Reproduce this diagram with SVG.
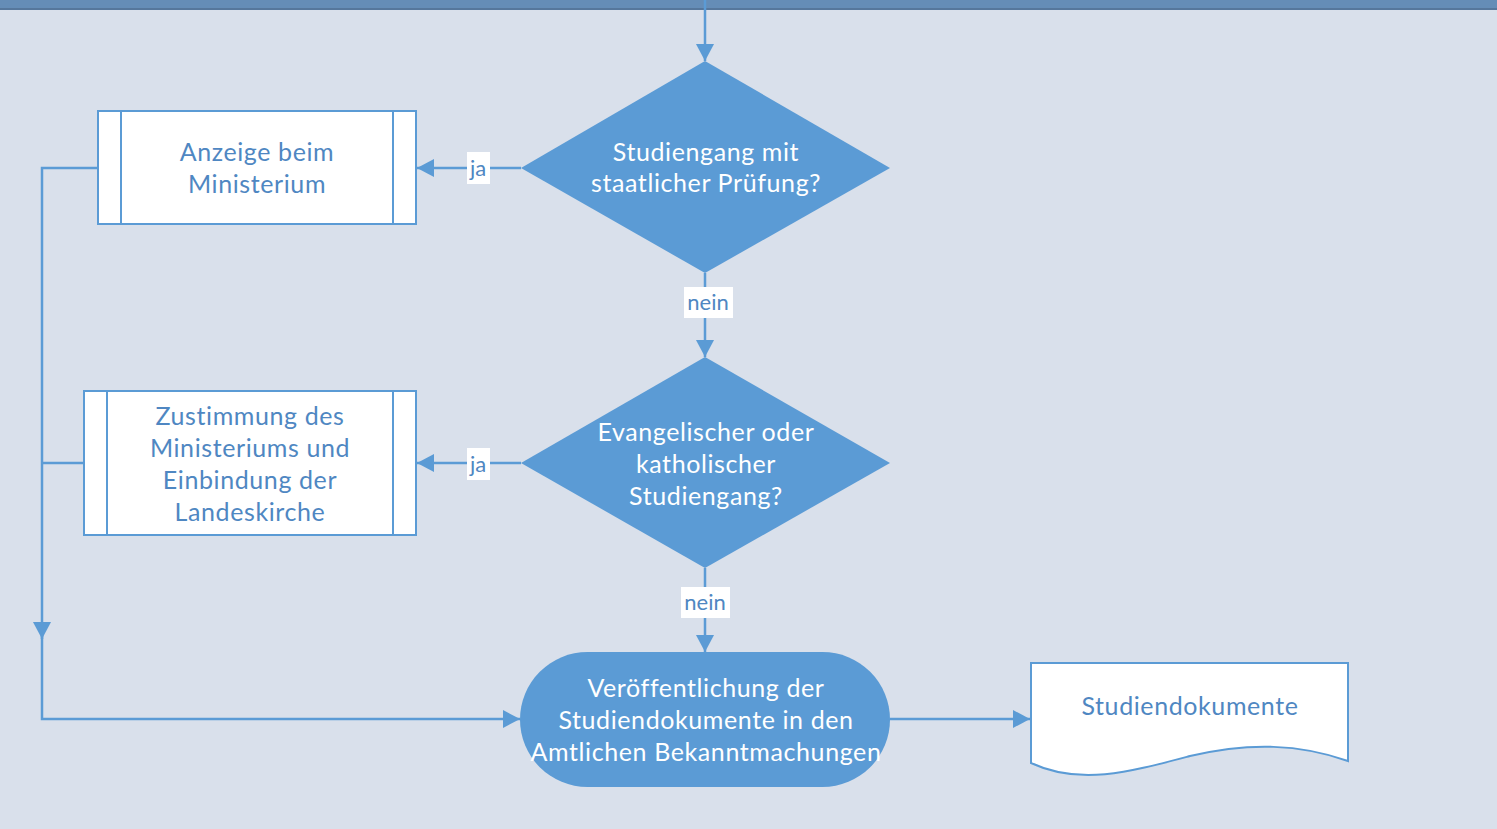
<svg xmlns="http://www.w3.org/2000/svg" width="1497" height="829" viewBox="0 0 1497 829">
  <style>
    .bg { fill: #d9e0eb; }
    .proc { fill: #ffffff; stroke: #5b9bd5; stroke-width: 2; }
    .dec { fill: #5b9bd5; }
    .line { fill: none; stroke: #5b9bd5; stroke-width: 2.5; }
    .t { font-family: Lato, "Noto Sans", sans-serif; font-size: 25px; text-anchor: middle; letter-spacing: 0.6px; }
    .tw { fill: #ffffff; }
    .tb { fill: #4f87c2; }
    .lbl { font-family: Lato, "Noto Sans", sans-serif; font-size: 22px; fill: #4f87c2; text-anchor: middle; }
  </style>
  <defs>
    <!-- filled triangular arrowhead, 17 long x 18 wide -->
    <marker id="arrow" markerWidth="17" markerHeight="18" refX="17" refY="9" orient="auto" markerUnits="userSpaceOnUse" viewBox="0 0 17 18">
      <path d="M0,0 L17,9 L0,18 z" fill="#5b9bd5"/>
    </marker>
  </defs>

  <rect class="bg" x="0" y="0" width="1497" height="829"/>
  <rect x="0" y="0" width="1497" height="9" fill="#658db7"/>
  <rect x="0" y="8" width="1497" height="2" fill="#56779c"/>

  <g id="connectors">
    <line class="line" x1="705" y1="0" x2="705" y2="61" marker-end="url(#arrow)"/>
    <line class="line" x1="521" y1="168" x2="417" y2="168" marker-end="url(#arrow)"/>
    <line class="line" x1="705" y1="273" x2="705" y2="357" marker-end="url(#arrow)"/>
    <line class="line" x1="521" y1="463" x2="417" y2="463" marker-end="url(#arrow)"/>
    <line class="line" x1="705" y1="568" x2="705" y2="652" marker-end="url(#arrow)"/>
    <polyline class="line" points="98,168 42,168 42,639" marker-end="url(#arrow)"/>
    <line class="line" x1="84" y1="463" x2="42" y2="463"/>
    <polyline class="line" points="42,630 42,719 520,719" marker-end="url(#arrow)"/>
    <line class="line" x1="890" y1="719" x2="1030" y2="719" marker-end="url(#arrow)"/>
    <rect x="467" y="152" width="23" height="32" fill="#ffffff"/>
    <text class="lbl" x="478" y="176">ja</text>
    <rect x="684" y="287" width="49" height="31" fill="#ffffff"/>
    <text class="lbl" x="708" y="310">nein</text>
    <rect x="467" y="448" width="23" height="32" fill="#ffffff"/>
    <text class="lbl" x="478" y="472">ja</text>
    <rect x="681" y="587" width="49" height="31" fill="#ffffff"/>
    <text class="lbl" x="705" y="610">nein</text>
  </g>

  <g id="decision-pruefung">
    <polygon class="dec" points="705,61 890,168 705,273 521,168"/>
    <text class="t tw" x="706" y="161">Studiengang mit</text>
    <text class="t tw" x="706" y="192">staatlicher Prüfung?</text>
  </g>

  <g id="anzeige-ministerium">
    <rect class="proc" x="98" y="111" width="318" height="113"/>
    <line class="proc" x1="121" y1="111" x2="121" y2="224"/>
    <line class="proc" x1="393" y1="111" x2="393" y2="224"/>
    <text class="t tb" x="257" y="161">Anzeige beim</text>
    <text class="t tb" x="257" y="193">Ministerium</text>
  </g>

  <g id="decision-konfession">
    <polygon class="dec" points="705,357 890,463 705,568 521,463"/>
    <text class="t tw" x="706" y="441">Evangelischer oder</text>
    <text class="t tw" x="706" y="473">katholischer</text>
    <text class="t tw" x="706" y="505">Studiengang?</text>
  </g>

  <g id="zustimmung-landeskirche">
    <rect class="proc" x="84" y="391" width="332" height="144"/>
    <line class="proc" x1="107" y1="391" x2="107" y2="535"/>
    <line class="proc" x1="393" y1="391" x2="393" y2="535"/>
    <text class="t tb" x="250" y="425">Zustimmung des</text>
    <text class="t tb" x="250" y="457">Ministeriums und</text>
    <text class="t tb" x="250" y="489">Einbindung der</text>
    <text class="t tb" x="250" y="521">Landeskirche</text>
  </g>

  <g id="veroeffentlichung">
    <rect class="dec" x="520" y="652" width="370" height="135" rx="67.5" ry="67.5"/>
    <text class="t tw" x="706" y="697">Veröffentlichung der</text>
    <text class="t tw" x="706" y="729">Studiendokumente in den</text>
    <text class="t tw" x="706" y="761">Amtlichen Bekanntmachungen</text>
  </g>

  <g id="studiendokumente">
    <path class="proc" d="M1031,663 L1348,663 L1348,761 C1300,744 1250,742 1190,756 C1130,772 1080,786 1031,763 Z"/>
    <text class="t tb" x="1190" y="715">Studiendokumente</text>
  </g>
</svg>
